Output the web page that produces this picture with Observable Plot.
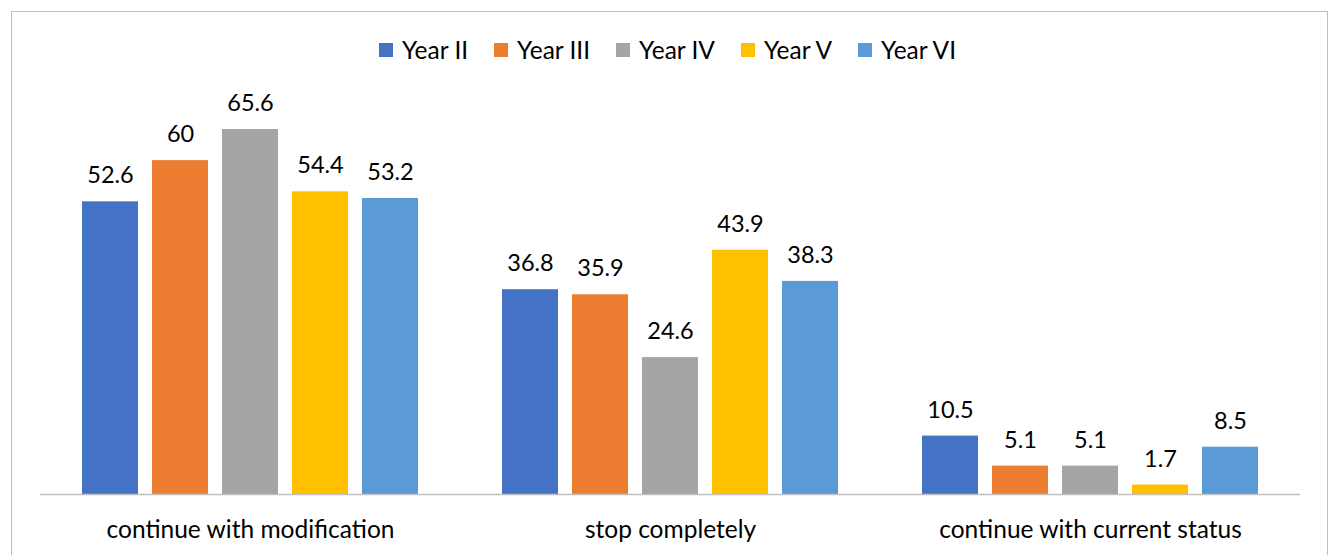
<!DOCTYPE html>
<html><head><meta charset="utf-8">
<script src="https://cdn.jsdelivr.net/npm/d3@7"></script>
<script src="https://cdn.jsdelivr.net/npm/@observablehq/plot@0.6"></script>
<style>
body{margin:0;background:#fff;font-family:Lato,"Open Sans",sans-serif;overflow:hidden;}
#wrap{position:relative;width:1335px;height:555px;}
#frame{position:absolute;left:11px;top:11px;width:1317px;height:600px;border:1px solid #bfbfbf;box-sizing:border-box;}
#legend{position:absolute;left:0;top:35px;width:1335px;display:flex;justify-content:center;gap:26px;font-size:24.5px;color:#000;line-height:30px;}
#legend .it{display:flex;align-items:center;gap:9px;}
#legend .sw{width:14px;height:14px;display:inline-block;}
#chart{position:absolute;left:0;top:75px;}
</style></head>
<body>
<div id="wrap"><div id="frame"></div><div id="legend"></div><div id="chart"></div></div>
<script>
const categories = ["continue with modification", "stop completely", "continue with current status"];
const years = ["Year II", "Year III", "Year IV", "Year V", "Year VI"];
const colors = ["#4472C4", "#ED7D31", "#A5A5A5", "#FFC000", "#5B9BD5"];
const yearII  = [52.6, 36.8, 10.5];
const yearIII = [60, 35.9, 5.1];
const yearIV  = [65.6, 24.6, 5.1];
const yearV   = [54.4, 43.9, 1.7];
const yearVI  = [53.2, 38.3, 8.5];

const series = [yearII, yearIII, yearIV, yearV, yearVI];
const data = [];
categories.forEach((c, ci) => years.forEach((y, yi) => data.push({category: c, year: y, value: series[yi][ci]})));

const leg = document.getElementById("legend");
years.forEach((y, i) => {
  const it = document.createElement("div"); it.className = "it";
  const sw = document.createElement("span"); sw.className = "sw"; sw.style.background = colors[i];
  const t = document.createElement("span"); t.textContent = y;
  it.append(sw, t); leg.append(it);
});

const chart = Plot.plot({
  width: 1335, height: 480,
  marginLeft: 40, marginRight: 35, marginTop: 29.5, marginBottom: 61,
  style: {fontFamily: "Lato, 'Open Sans', sans-serif", background: "transparent"},
  fx: {domain: categories, padding: 0, label: null},
  x: {domain: years, paddingInner: 0.2, paddingOuter: 0.6, axis: null},
  y: {domain: [0, 70], axis: null},
  color: {domain: years, range: colors},
  marks: [
    Plot.barY(data, {fx: "category", x: "year", y: "value", fill: "year"}),
    Plot.ruleY([0], {stroke: "#bfbfbf", strokeWidth: 1.3}),
    Plot.text(data, {fx: "category", x: "year", y: "value", text: d => String(d.value), dy: -26, fontSize: 23.5, fill: "#000"}),
    Plot.axisFx({anchor: "bottom", tickSize: 0, tickPadding: 26, fontSize: 24.5, label: null, fill: "#000"})
  ]
});
document.getElementById("chart").append(chart);
</script>
</body></html>
